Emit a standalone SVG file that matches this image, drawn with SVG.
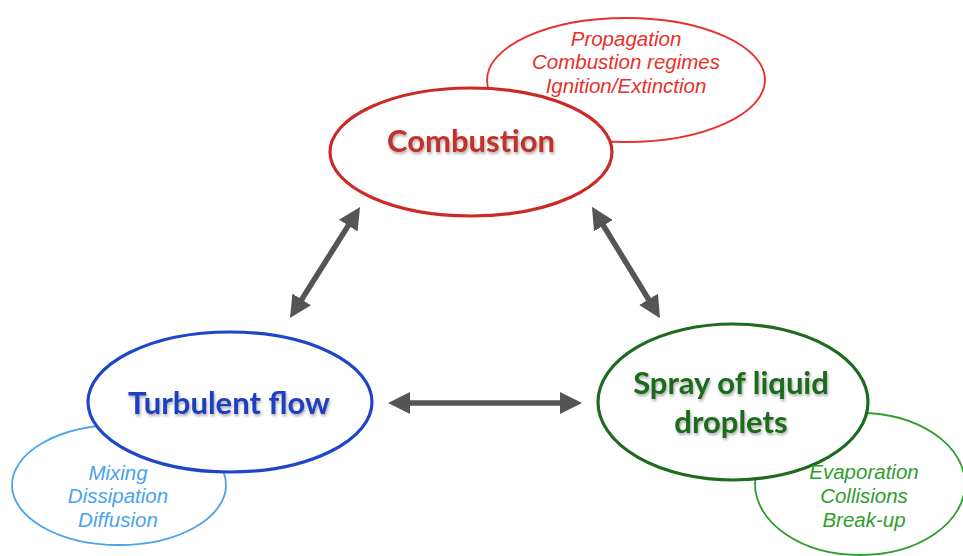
<svg xmlns="http://www.w3.org/2000/svg" width="963" height="556" viewBox="0 0 963 556">
<defs>
<style>
.main{font-family:Lato,"DejaVu Sans",sans-serif;font-weight:bold;font-size:31px;text-anchor:middle}
.sub{font-family:"Liberation Sans",Arial,sans-serif;font-style:italic;font-size:20.5px;text-anchor:middle}
.conn{stroke:#555;stroke-width:5.5;fill:none;marker-start:url(#ah);marker-end:url(#ah)}
</style>
<marker id="ah" viewBox="0 0 10 10" refX="3" refY="5" markerWidth="4" markerHeight="4" orient="auto-start-reverse" markerUnits="strokeWidth">
<path d="M0,0 L10,5 L0,10 Z" fill="#555"/>
</marker>
<filter id="sh" x="-10%" y="-20%" width="120%" height="140%">
<feGaussianBlur in="SourceAlpha" stdDeviation="1.5"/>
<feOffset dx="1" dy="2" result="b"/>
<feComponentTransfer><feFuncA type="linear" slope="0.35"/></feComponentTransfer>
<feMerge><feMergeNode/><feMergeNode in="SourceGraphic"/></feMerge>
</filter>
</defs>
<rect width="963" height="556" fill="#fff"/>

<g id="combustion-details">
<ellipse cx="626" cy="80" rx="139" ry="62" fill="#fff" stroke="#e8302a" stroke-width="1.8"/>
<text class="sub" fill="#e8302a" x="626" y="46">Propagation</text>
<text class="sub" fill="#e8302a" x="626" y="69">Combustion regimes</text>
<text class="sub" fill="#e8302a" x="626" y="93">Ignition/Extinction</text>
</g>
<g id="combustion">
<ellipse cx="471" cy="152" rx="141" ry="64" fill="#fff" stroke="#cc2a26" stroke-width="3.2"/>
<text class="main" fill="#c0302a" x="471" y="152" filter="url(#sh)">Combustion</text>
</g>

<g id="turbulent-details">
<ellipse cx="119" cy="485" rx="107" ry="60" fill="#fff" stroke="#4aa3ee" stroke-width="1.8"/>
</g>
<g id="turbulent">
<ellipse cx="230" cy="402" rx="142" ry="70" fill="#fff" stroke="#1f45c8" stroke-width="3.2"/>
<text class="main" fill="#1f3fbf" x="229" y="414" filter="url(#sh)">Turbulent flow</text>
</g>
<g id="turbulent-details-text">
<text class="sub" fill="#4aa3ee" x="118" y="480">Mixing</text>
<text class="sub" fill="#4aa3ee" x="118" y="503">Dissipation</text>
<text class="sub" fill="#4aa3ee" x="118" y="527">Diffusion</text>
</g>

<g id="spray-details">
<ellipse cx="860" cy="484" rx="105" ry="71" fill="#fff" stroke="#2e9e2e" stroke-width="1.8"/>
</g>
<g id="spray">
<ellipse cx="733" cy="402" rx="135" ry="78" fill="#fff" stroke="#1e6a1e" stroke-width="3.2"/>
<text class="main" fill="#1e6a1e" x="731" y="394" filter="url(#sh)">Spray of liquid</text>
<text class="main" fill="#1e6a1e" x="731" y="433" filter="url(#sh)">droplets</text>
</g>
<g id="spray-details-text">
<text class="sub" fill="#2e9e2e" x="864" y="479">Evaporation</text>
<text class="sub" fill="#2e9e2e" x="864" y="503">Collisions</text>
<text class="sub" fill="#2e9e2e" x="864" y="527">Break-up</text>
</g>

<g id="connectors">
<line class="conn" x1="298.2" y1="305" x2="351.8" y2="220"/>
<line class="conn" x1="600" y1="220" x2="652" y2="305"/>
<line class="conn" x1="403.4" y1="403" x2="566.6" y2="403"/>
</g>
</svg>
